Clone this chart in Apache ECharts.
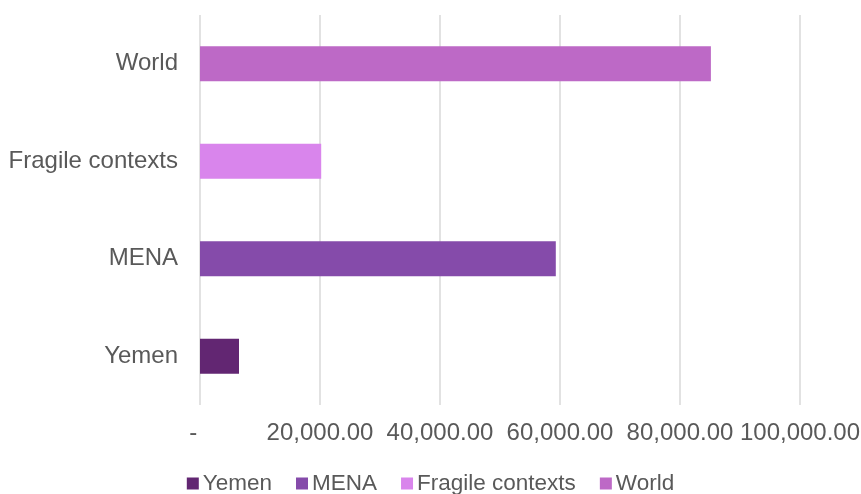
<!DOCTYPE html>
<html>
<head>
<meta charset="utf-8">
<script src="https://cdn.jsdelivr.net/npm/echarts@6/dist/echarts.min.js"></script>
<style>
  html, body { margin: 0; padding: 0; background: #fff; }
  #chart { width: 861px; height: 494px; }
</style>
</head>
<body>
<div id="chart"></div>
<script>
var categories = ['Yemen', 'MENA', 'Fragile contexts', 'World'];
var seriesNames = ['Yemen', 'MENA', 'Fragile contexts', 'World'];
var values = [6500, 59300, 20200, 85150];
var colors = ['#622672', '#854BAA', '#D985EC', '#BD69C6'];
var xTicks = [0, 20000, 40000, 60000, 80000, 100000];

var chart = echarts.init(document.getElementById('chart'));

// one series per category, stacked so each bar sits centred on its row
var series = seriesNames.map(function(name, i) {
    var data = categories.map(function(c, j) {
        return j === i ? values[i] : null;
    });
    return {
        name: name,
        type: 'bar',
        stack: 'all',
        barWidth: 35,
        itemStyle: { color: colors[i] },
        data: data
    };
});

function fmt(v) {
    if (v === 0) return '-  ';
    return v.toLocaleString('en-US', { minimumFractionDigits: 2, maximumFractionDigits: 2 });
}

chart.setOption({
    animation: false,
    textStyle: { fontFamily: 'Liberation Sans, Arial, sans-serif' },
    grid: { left: 200, right: 61, top: 15, bottom: 89, outerBoundsMode: 'none' },
    legend: {
        bottom: -6,
        left: 'center',
        itemWidth: 12,
        itemHeight: 12,
        itemGap: 24,
        icon: 'rect',
        textStyle: { color: '#595959', fontSize: 22.5, padding: [0, 0, 0, -1] },
        data: seriesNames
    },
    xAxis: {
        type: 'value',
        min: xTicks[0],
        max: xTicks[xTicks.length - 1],
        interval: 20000,
        axisLine: { show: false },
        axisTick: { show: false },
        splitLine: { lineStyle: { color: '#d9d9d9', width: 1.5 } },
        axisLabel: { color: '#595959', fontSize: 24, margin: 16, formatter: fmt }
    },
    yAxis: {
        type: 'category',
        data: categories,
        axisLine: { show: false },
        axisTick: { show: false },
        axisLabel: { color: '#595959', fontSize: 24, margin: 22 }
    },
    series: series
});
</script>
</body>
</html>
